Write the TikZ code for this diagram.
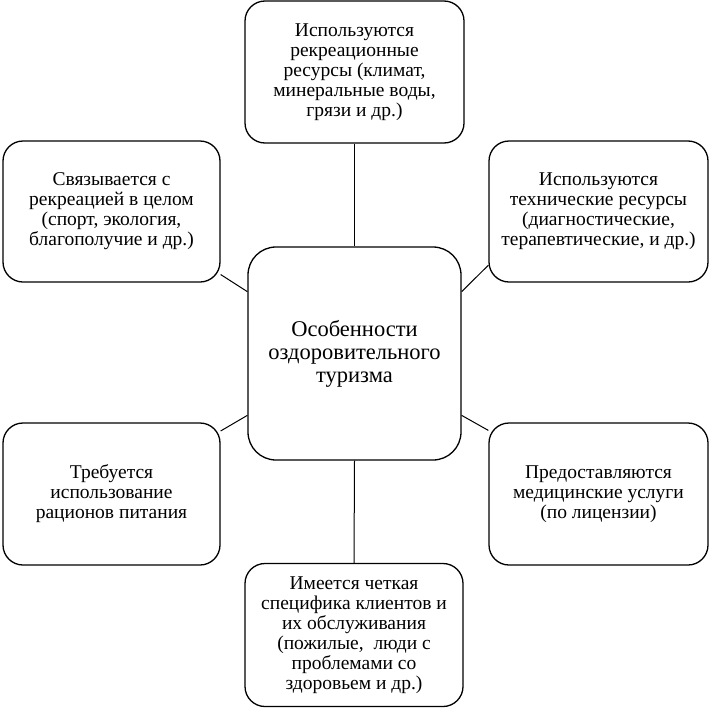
\documentclass[tikz,border=0pt]{standalone}
\usepackage{fontspec}
\setmainfont{Liberation Serif}
\begin{document}
\begin{tikzpicture}[x=1pt,y=-1pt,
  box/.style={draw, line width=1.3pt, rounded corners=20pt, align=center, inner sep=0pt,
    font=\fontsize{19.5}{20}\selectfont},
  hub/.style={box, rounded corners=28pt, font=\fontsize{22.5}{23}\selectfont},
  link/.style={line width=1pt}]
\useasboundingbox (0,0) rectangle (709,707);
\node[box, minimum width=219pt, minimum height=142pt] (t) at (354.5,72) {Используются\\рекреационные\\ресурсы (климат,\\минеральные воды,\\грязи и др.)};
\node[box, minimum width=217pt, minimum height=141pt] (lt) at (111.5,211.5) {Связывается с\\рекреацией в целом\\(спорт, экология,\\благополучие и др.)};
\node[box, minimum width=219pt, minimum height=141pt] (rt) at (598.5,211.5) {Используются\\технические ресурсы\\(диагностические,\\терапевтические, и др.)};
\node[hub, minimum width=213pt, minimum height=213pt] (c) at (354.5,353.5) {Особенности\\оздоровительного\\туризма};
\node[box, minimum width=217pt, minimum height=142pt] (lb) at (111.5,494) {Требуется\\использование\\рационов питания};
\node[box, minimum width=219pt, minimum height=142pt] (rb) at (598.5,494) {Предоставляются\\медицинские услуги\\(по лицензии)};
\node[box, minimum width=218pt, minimum height=143pt] (b) at (354,635) {Имеется четкая\\специфика клиентов и\\их обслуживания\\(пожилые,\ \ люди с\\проблемами со\\здоровьем и др.)};
\draw[link] (t.south) -- (c.north);
\draw[link] (c.south) -- (b.north);
\draw[link] (lt.-30) -- (c.150);
\draw[link] (c.30) -- (rt.206);
\draw[link] (lb.30) -- (c.210);
\draw[link] (c.-30) -- (rb.150);
\end{tikzpicture}
\end{document}
